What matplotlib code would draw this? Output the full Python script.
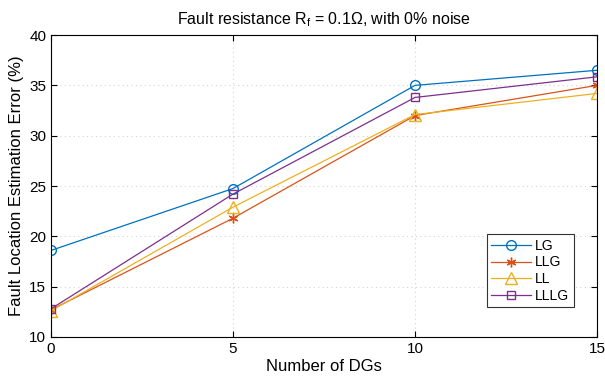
import matplotlib
matplotlib.use('Agg')
import matplotlib.pyplot as plt

plt.rcParams['font.family'] = ['Liberation Sans', 'DejaVu Sans']
plt.rcParams['mathtext.fontset'] = 'custom'
plt.rcParams['mathtext.rm'] = 'Liberation Sans'

# data
dgs = [0, 5, 10, 15]
lg = [18.6, 24.75, 35.0, 36.5]
llg = [12.7, 21.8, 32.0, 35.0]
ll = [12.6, 22.9, 32.1, 34.2]
lllg = [12.8, 24.2, 33.8, 35.85]

fig = plt.figure(figsize=(6.05, 3.81), dpi=100)
ax = fig.add_axes([0.0843, 0.1155, 0.9025, 0.7925])

ax.plot(dgs, lg, color='#0072BD', marker='o', ms=7, mfc='none', lw=0.9, label='LG')
ax.plot(dgs, llg, color='#D95319', marker=(6, 2, 0), ms=7, lw=0.9, label='LLG')
ax.plot(dgs, ll, color='#EDB120', marker='^', ms=8, mfc='none', lw=0.9, label='LL')
ax.plot(dgs, lllg, color='#7E2F8E', marker='s', ms=5.5, mfc='none', lw=0.9, label='LLLG')

ax.set_xlim(0, 15)
ax.set_ylim(10, 40)
ax.set_xticks([0, 5, 10, 15])
ax.set_yticks(range(10, 41, 5))
ax.grid(True, ls=(0, (1, 3)), color='#d4d4d4', lw=0.8)
ax.tick_params(direction='in', top=True, right=True, labelsize=11, length=4)
for s in ax.spines.values():
    s.set_linewidth(0.8)

ax.set_xlabel('Number of DGs', fontsize=12, labelpad=2)
ax.set_ylabel('Fault Location Estimation Error (%)', fontsize=12, labelpad=4)
ax.set_title(r'Fault resistance R$_\mathregular{f}$ = 0.1Ω, with 0% noise', fontsize=11.5, pad=8)

leg = ax.legend(loc='lower right', bbox_to_anchor=(0.957, 0.099), fancybox=False,
                edgecolor='#333333', fontsize=10, handlelength=2.9, borderpad=0.3,
                labelspacing=0.2, handletextpad=0.3, borderaxespad=0, framealpha=1)
leg.get_frame().set_linewidth(0.8)

fig.savefig('out.png', dpi=100)
